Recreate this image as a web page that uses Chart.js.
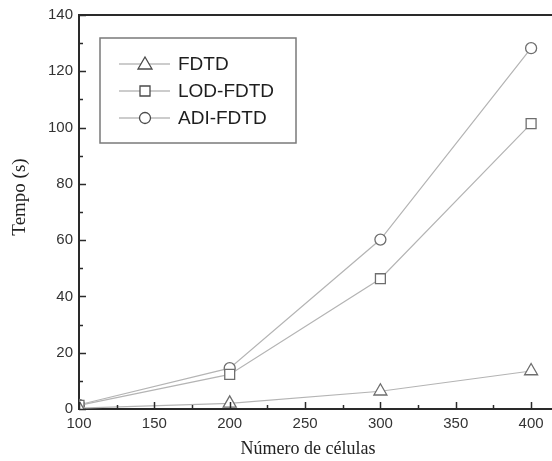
<!DOCTYPE html>
<html>
<head>
<meta charset="utf-8">
<script src="https://cdn.jsdelivr.net/npm/chart.js@4.4.1/dist/chart.umd.min.js"></script>
<style>
  html, body { margin: 0; padding: 0; background: #fff; overflow: hidden; }
  #wrap { width: 561px; height: 461px; }
</style>
</head>
<body>
<div id="wrap"><canvas id="tempoChart"></canvas></div>
<script>
// numero de celulas
var cells = [100, 200, 300, 400];
var fdtd = [0.3, 2.0, 6.3, 13.5];
var lodFdtd = [1.3, 12.3, 46.3, 101.4];
var adiFdtd = [1.5, 14.5, 60.2, 128.2];

var seriesNames = ["FDTD", "LOD-FDTD", "ADI-FDTD"];
var seriesMarks = ["triangle", "rect", "circle"];
var seriesRadius = [7.5, 7, 5.5];

var xTicks = [100, 150, 200, 250, 300, 350, 400];
var yTicks = [0, 20, 40, 60, 80, 100, 120, 140];
var xTitle = 'Número de células';
var yTitle = 'Tempo (s)';

function toPoints(vals) {
    return cells.map(function (c, i) { return {x: c, y: vals[i]}; });
}

function makeSet(i, vals) {
    return {
        label: seriesNames[i],
        data: toPoints(vals),
        borderColor: '#b4b4b4',
        borderWidth: 1.2,
        pointStyle: seriesMarks[i],
        pointRadius: seriesRadius[i],
        pointBorderColor: '#6e6e6e',
        pointBackgroundColor: '#ffffff',
        pointBorderWidth: 1.3,
        tension: 0
    };
}

var serif = '"Liberation Serif", "Times New Roman", serif';

// inner ticks, top frame line, axis titles and the boxed legend
var frame = {
    id: 'frame',
    afterDraw: function (chart) {
        var ctx = chart.ctx;
        var area = chart.chartArea;
        var xs = chart.scales.x, ys = chart.scales.y;
        ctx.save();
        ctx.strokeStyle = '#2a2a2a';
        ctx.lineWidth = 2;
        ctx.beginPath();
        ctx.moveTo(area.left - 1, area.top);
        ctx.lineTo(chart.width, area.top);
        ctx.stroke();

        ctx.lineWidth = 1.5;
        for (var v = 100; v <= 400; v += 25) {
            var px = Math.round(xs.getPixelForValue(v)) + 0.5;
            var len = (v % 50 === 0) ? 7 : 4;
            ctx.beginPath();
            ctx.moveTo(px, area.bottom);
            ctx.lineTo(px, area.bottom - len);
            ctx.stroke();
        }
        for (var w = 0; w <= 140; w += 10) {
            var py = Math.round(ys.getPixelForValue(w)) + 0.5;
            var l2 = (w % 20 === 0) ? 7 : 4;
            ctx.beginPath();
            ctx.moveTo(area.left, py);
            ctx.lineTo(area.left + l2, py);
            ctx.stroke();
        }

        // axis titles
        ctx.fillStyle = '#222';
        ctx.textAlign = 'center';
        ctx.textBaseline = 'middle';
        ctx.font = '18px ' + serif;
        ctx.fillText(xTitle, 308, 449);
        ctx.save();
        ctx.translate(20, 197);
        ctx.rotate(-Math.PI / 2);
        ctx.font = '19px ' + serif;
        ctx.fillText(yTitle, 0, 0);
        ctx.restore();

        // legend
        var bx = 100, by = 38, bw = 196, bh = 105;
        ctx.fillStyle = '#ffffff';
        ctx.fillRect(bx, by, bw, bh);
        ctx.strokeStyle = '#7a7a7a';
        ctx.lineWidth = 1.5;
        ctx.strokeRect(bx, by, bw, bh);
        ctx.font = '19px "Liberation Sans", Arial, sans-serif';
        ctx.textBaseline = 'middle';
        ctx.textAlign = 'left';
        chart.data.datasets.forEach(function (ds, i) {
            var ry = 64 + i * 27;
            ctx.strokeStyle = '#9a9a9a';
            ctx.lineWidth = 1.2;
            ctx.beginPath();
            ctx.moveTo(119, ry);
            ctx.lineTo(170, ry);
            ctx.stroke();
            ctx.fillStyle = '#ffffff';
            ctx.strokeStyle = '#4a4a4a';
            ctx.lineWidth = 1.3;
            ctx.beginPath();
            if (ds.pointStyle === 'circle') {
                ctx.arc(145, ry, 5.5, 0, Math.PI * 2);
            } else if (ds.pointStyle === 'rect') {
                ctx.rect(140, ry - 5, 10, 10);
            } else {
                ctx.moveTo(145, ry - 7);
                ctx.lineTo(152, ry + 5);
                ctx.lineTo(138, ry + 5);
                ctx.closePath();
            }
            ctx.fill();
            ctx.stroke();
            ctx.fillStyle = '#1e1e1e';
            ctx.fillText(ds.label, 178, ry + 1);
        });
        ctx.restore();
    }
};

var tickFont = {family: '"Liberation Sans", Arial, sans-serif', size: 15};

var ctx = document.getElementById("tempoChart").getContext("2d");
new Chart(ctx, {
    type: 'line',
    data: {
        datasets: [makeSet(0, fdtd), makeSet(1, lodFdtd), makeSet(2, adiFdtd)]
    },
    options: {
        responsive: true,
        maintainAspectRatio: false,
        animation: false,
        layout: {padding: {top: 15, right: 0, left: 0, bottom: 0}},
        plugins: {legend: {display: false}, tooltip: {enabled: false}},
        scales: {
            x: {
                type: 'linear',
                min: 100,
                max: 414,
                afterFit: function (s) { s.height = 52; },
                afterBuildTicks: function (s) {
                    s.ticks = xTicks.map(function (v) { return {value: v}; });
                },
                grid: {display: false, drawTicks: false},
                border: {display: true, color: '#2a2a2a', width: 2},
                ticks: {color: '#333', font: tickFont, padding: 6, maxRotation: 0}
            },
            y: {
                type: 'linear',
                min: 0,
                max: 140,
                afterFit: function (s) { s.width = 79; },
                afterBuildTicks: function (s) {
                    s.ticks = yTicks.map(function (v) { return {value: v}; });
                },
                grid: {display: false, drawTicks: false},
                border: {display: true, color: '#2a2a2a', width: 2},
                ticks: {color: '#333', font: tickFont, padding: 6}
            }
        }
    },
    plugins: [frame]
});
</script>
</body>
</html>
